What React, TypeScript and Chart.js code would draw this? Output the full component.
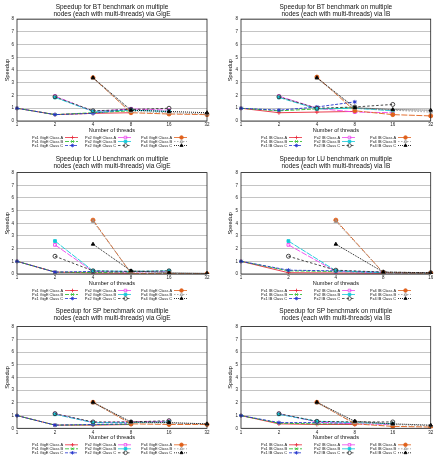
import React, { useEffect, useRef } from 'react';
import { Chart, registerables } from 'chart.js';
import { drawPoint } from 'chart.js/helpers';
Chart.register(...registerables);

const threads = ['1', '2', '4', '8', '16', '32'];
const threadsLuIb = ['1', '2', '4', '8', '16'];
const configNames = ['Px1', 'Px2', 'Px4'];
const classNames = ['Class A', 'Class B', 'Class C'];

// BT via GigE
const btGigePx1A = [1, 0.5, 0.6, 0.65, null, null];
const btGigePx1B = [1, 0.5, 0.65, 0.8, null, null];
const btGigePx1C = [1, 0.5, 0.6, 0.95, null, null];
const btGigePx2A = [null, 1.95, 0.75, 0.95, 0.85, null];
const btGigePx2B = [null, 1.85, 0.75, 0.85, 0.75, null];
const btGigePx2C = [null, 1.9, 0.8, 0.9, 1.0, null];
const btGigePx4A = [null, null, 3.4, 0.65, 0.55, 0.5];
const btGigePx4B = [null, null, 3.35, 0.75, 0.65, 0.55];
const btGigePx4C = [null, null, 3.4, 0.85, 0.75, 0.65];

// BT via IB
const btIbPx1A = [1, 0.65, 0.7, 0.75, null, null];
const btIbPx1B = [1, 0.8, 0.95, 1.05, null, null];
const btIbPx1C = [1, 0.85, 1.1, 1.5, null, null];
const btIbPx2A = [null, 1.95, 1.0, 0.7, 0.65, null];
const btIbPx2B = [null, 1.85, 0.95, 1.0, 0.8, null];
const btIbPx2C = [null, 1.9, 1.0, 1.1, 1.3, null];
const btIbPx4A = [null, null, 3.45, 0.8, 0.5, 0.4];
const btIbPx4B = [null, null, 3.35, 1.0, 0.85, 0.7];
const btIbPx4C = [null, null, 3.4, 1.05, 0.9, 0.85];

// LU via GigE
const luGigePx1A = [1, 0.15, 0.08, 0.05, null, null];
const luGigePx1B = [1, 0.15, 0.12, 0.1, null, null];
const luGigePx1C = [1, 0.15, 0.2, 0.2, null, null];
const luGigePx2A = [null, 2.3, 0.2, 0.15, 0.2, null];
const luGigePx2B = [null, 2.6, 0.25, 0.2, 0.25, null];
const luGigePx2C = [null, 1.4, 0.25, 0.2, 0.25, null];
const luGigePx4A = [null, null, 4.25, 0.05, 0.03, 0.02];
const luGigePx4B = [null, null, 4.15, 0.1, 0.05, 0.03];
const luGigePx4C = [null, null, 2.35, 0.25, 0.1, 0.05];

// LU via IB
const luIbPx1A = [1, 0.1, 0.08, 0.05, null];
const luIbPx1B = [1, 0.25, 0.2, 0.1, null];
const luIbPx1C = [1, 0.3, 0.25, 0.15, null];
const luIbPx2A = [null, 2.3, 0.2, 0.1, 0.05];
const luIbPx2B = [null, 2.6, 0.25, 0.1, 0.05];
const luIbPx2C = [null, 1.4, 0.3, 0.15, 0.1];
const luIbPx4A = [null, null, 4.25, 0.1, 0.05];
const luIbPx4B = [null, null, 4.15, 0.1, 0.05];
const luIbPx4C = [null, null, 2.35, 0.15, 0.1];

// SP via GigE
const spGigePx1A = [1, 0.25, 0.25, 0.3, null, null];
const spGigePx1B = [1, 0.25, 0.28, 0.32, null, null];
const spGigePx1C = [1, 0.25, 0.3, 0.35, null, null];
const spGigePx2A = [null, 1.15, 0.45, 0.5, 0.55, null];
const spGigePx2B = [null, 1.1, 0.45, 0.45, 0.5, null];
const spGigePx2C = [null, 1.15, 0.5, 0.5, 0.6, null];
const spGigePx4A = [null, null, 2.05, 0.35, 0.3, 0.3];
const spGigePx4B = [null, null, 2.0, 0.45, 0.4, 0.35];
const spGigePx4C = [null, null, 2.05, 0.5, 0.45, 0.35];

// SP via IB
const spIbPx1A = [1, 0.35, 0.3, 0.3, null, null];
const spIbPx1B = [1, 0.4, 0.35, 0.35, null, null];
const spIbPx1C = [1, 0.45, 0.45, 0.4, null, null];
const spIbPx2A = [null, 1.15, 0.5, 0.35, 0.3, null];
const spIbPx2B = [null, 1.1, 0.55, 0.45, 0.35, null];
const spIbPx2C = [null, 1.15, 0.55, 0.5, 0.5, null];
const spIbPx4A = [null, null, 2.05, 0.35, 0.15, 0.1];
const spIbPx4B = [null, null, 2.0, 0.45, 0.3, 0.2];
const spIbPx4C = [null, null, 2.05, 0.55, 0.35, 0.25];

const FONT = '"Liberation Sans", Arial, sans-serif';

const seriesStyles = [
  { color: '#e8283a', bg: '#e8283a', dash: [], point: 'cross' },
  { color: '#22b822', bg: '#22b822', dash: [4, 1.5], point: 'crossRot' },
  { color: '#2233cc', bg: '#2233cc', dash: [3, 1.5], point: 'star' },
  { color: '#ee44ee', bg: 'rgba(0,0,0,0)', dash: [6, 1.5], point: 'rect' },
  { color: '#11c8d8', bg: '#11c8d8', dash: [6, 1.2], point: 'rect' },
  { color: '#333333', bg: 'rgba(0,0,0,0)', dash: [2.5, 2], point: 'circle' },
  { color: '#e0601a', bg: '#e0601a', dash: [6, 1.5], point: 'circle' },
  { color: '#999999', bg: 'rgba(0,0,0,0)', dash: [1.5, 1.5], point: 'triangle' },
  { color: '#000000', bg: '#000000', dash: [1, 1], point: 'triangle' },
];

const panels = [
  { bench: 'BT', net: 'GigE', labels: threads, row: 0, col: 0,
    series: [btGigePx1A, btGigePx1B, btGigePx1C, btGigePx2A, btGigePx2B, btGigePx2C, btGigePx4A, btGigePx4B, btGigePx4C] },
  { bench: 'BT', net: 'IB', labels: threads, row: 0, col: 1,
    series: [btIbPx1A, btIbPx1B, btIbPx1C, btIbPx2A, btIbPx2B, btIbPx2C, btIbPx4A, btIbPx4B, btIbPx4C] },
  { bench: 'LU', net: 'GigE', labels: threads, row: 1, col: 0,
    series: [luGigePx1A, luGigePx1B, luGigePx1C, luGigePx2A, luGigePx2B, luGigePx2C, luGigePx4A, luGigePx4B, luGigePx4C] },
  { bench: 'LU', net: 'IB', labels: threadsLuIb, row: 1, col: 1,
    series: [luIbPx1A, luIbPx1B, luIbPx1C, luIbPx2A, luIbPx2B, luIbPx2C, luIbPx4A, luIbPx4B, luIbPx4C] },
  { bench: 'SP', net: 'GigE', labels: threads, row: 2, col: 0,
    series: [spGigePx1A, spGigePx1B, spGigePx1C, spGigePx2A, spGigePx2B, spGigePx2C, spGigePx4A, spGigePx4B, spGigePx4C] },
  { bench: 'SP', net: 'IB', labels: threads, row: 2, col: 1,
    series: [spIbPx1A, spIbPx1B, spIbPx1C, spIbPx2A, spIbPx2B, spIbPx2C, spIbPx4A, spIbPx4B, spIbPx4C] },
];

const rowTops = [0, 152, 304];
const rowHeights = [152, 152, 153];
const rowTitleGap = [0.5, 2, 4];
const rowBottomPad = [18, 17, 15.7];
const colLefts = [0, 218];
const colPadLeft = [1, 6];
const colPadRight = [11, 5.3];
const colAxisWidth = [16, 17];
const legendTextRight = [46, 99, 155];

const boxPlugin = {
  id: 'boxPlugin',
  afterDatasetsDraw(chart: any) {
    const { ctx, chartArea: a } = chart;
    ctx.save();
    ctx.strokeStyle = '#222';
    ctx.lineWidth = 0.8;
    ctx.strokeRect(a.left, a.top, a.right - a.left, a.bottom - a.top);
    ctx.restore();
  },
};

const gnuLegend = {
  id: 'gnuLegend',
  afterDraw(chart: any) {
    const { ctx, chartArea: a } = chart;
    ctx.save();
    ctx.font = `3.9px ${FONT}`;
    ctx.textBaseline = 'middle';
    chart.data.datasets.forEach((d: any, i: number) => {
      const col = Math.floor(i / 3);
      const row = i % 3;
      const tr = a.left + legendTextRight[col];
      const y = a.bottom + 16.5 + row * 4;
      ctx.textAlign = 'right';
      ctx.fillStyle = '#111';
      ctx.fillText(d.label, tr, y);
      ctx.strokeStyle = d.borderColor;
      ctx.lineWidth = 0.8;
      ctx.setLineDash(d.borderDash || []);
      ctx.beginPath();
      ctx.moveTo(tr + 2, y);
      ctx.lineTo(tr + 15, y);
      ctx.stroke();
      ctx.setLineDash([]);
      ctx.fillStyle = d.pointBackgroundColor;
      ctx.strokeStyle = d.borderColor;
      ctx.lineWidth = 0.8;
      drawPoint(ctx, { pointStyle: d.pointStyle, radius: 1.8, borderWidth: 0.8, rotation: 0 }, tr + 9.5, y);
    });
    ctx.restore();
  },
};

function Panel({ p }: { p: any }) {
  const ref = useRef<HTMLCanvasElement>(null);
  useEffect(() => {
    const datasets = p.series.map((data: any, i: number) => {
      const s = seriesStyles[i];
      return {
        label: `${configNames[Math.floor(i / 3)]} ${p.net} ${classNames[i % 3]}`,
        data,
        borderColor: s.color,
        backgroundColor: s.bg,
        borderWidth: 0.9,
        borderDash: s.dash,
        pointStyle: s.point,
        pointRadius: 2,
        pointBorderWidth: 0.9,
        pointBorderColor: s.color,
        pointBackgroundColor: s.bg,
        fill: false,
        tension: 0,
        order: 9 - i,
      };
    });
    const chart = new Chart(ref.current as HTMLCanvasElement, {
      type: 'line',
      data: { labels: p.labels, datasets },
      plugins: [boxPlugin, gnuLegend],
      options: {
        animation: false,
        responsive: false,
        devicePixelRatio: 1,
        layout: {
          padding: { left: colPadLeft[p.col], right: colPadRight[p.col], top: 0, bottom: rowBottomPad[p.row] },
        },
        plugins: {
          legend: { display: false },
          tooltip: { enabled: false },
          title: {
            display: true,
            fullSize: false,
            text: [`Speedup for ${p.bench} benchmark on multiple`, `nodes (each with multi-threads) via ${p.net}`],
            font: { size: 6.5, family: FONT, weight: 'normal', lineHeight: 1.2 },
            color: '#111',
            padding: { top: 3, bottom: rowTitleGap[p.row] },
          },
        },
        scales: {
          x: {
            type: 'category',
            offset: false,
            grid: { display: false, drawTicks: false },
            border: { display: false },
            ticks: { font: { size: 4.5, family: FONT }, color: '#222', padding: 1.5, maxRotation: 0, autoSkip: false },
            title: { display: true, text: 'Number of threads', font: { size: 5.6, family: FONT }, color: '#111', padding: { top: 0, bottom: 0 } },
            afterFit: (s: any) => { s.height = 13; },
          },
          y: {
            min: 0,
            max: 8,
            ticks: { stepSize: 1, font: { size: 4.5, family: FONT }, color: '#222', padding: 3 },
            grid: { color: '#c4c4c4', lineWidth: 1, drawTicks: false },
            border: { display: false },
            title: { display: true, text: 'Speedup', font: { size: 5.6, family: FONT }, color: '#111', padding: { top: 3, bottom: 0 } },
            afterFit: (s: any) => { s.width = colAxisWidth[p.col]; },
          },
        },
      } as any,
    });
    return () => chart.destroy();
  }, [p]);
  return (
    <canvas
      ref={ref}
      width={218}
      height={rowHeights[p.row]}
      style={{ position: 'absolute', left: colLefts[p.col], top: rowTops[p.row], width: 218, height: rowHeights[p.row] }}
    />
  );
}

export default function App() {
  return (
    <div style={{ position: 'absolute', left: 0, top: 0, width: 436, height: 457, background: '#fff' }}>
      {panels.map((p, i) => <Panel key={i} p={p} />)}
    </div>
  );
}
